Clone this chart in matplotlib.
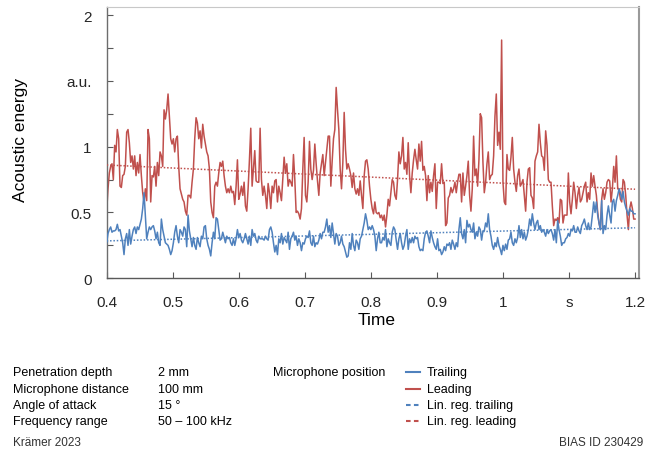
import numpy as np
import matplotlib
matplotlib.use('Agg')
import matplotlib.pyplot as plt
from matplotlib.lines import Line2D

plt.rcParams['font.family'] = ['Liberation Sans', 'DejaVu Sans']

# acoustic energy (a.u.), sampled evenly from 0.4 s to 1.2 s
leading = [
    0.51, 0.68, 0.80, 0.85, 0.87, 0.75, 1.01, 0.96, 1.13, 1.06,
    0.70, 0.69, 0.78, 0.79, 0.85, 1.11, 1.13, 1.03, 0.88, 0.93,
    0.83, 0.93, 0.78, 0.88, 0.80, 0.94, 0.78, 0.65, 0.58, 0.68,
    0.59, 1.13, 1.06, 0.58, 0.78, 0.77, 0.85, 0.70, 0.88, 0.78,
    0.96, 0.93, 0.85, 1.28, 1.21, 1.28, 1.40, 1.23, 1.06, 1.02,
    1.06, 0.96, 1.06, 1.08, 0.85, 0.68, 0.64, 0.60, 0.58, 0.51,
    0.48, 0.63,
    0.63, 0.61, 0.73, 0.83, 1.06, 1.22, 1.18, 1.06, 1.12, 0.99,
    1.17, 1.08, 1.02, 0.96, 0.93, 0.83, 0.58, 0.50, 0.46, 0.70,
    0.73, 0.70, 0.80, 0.88, 0.85, 0.89, 0.78, 0.70, 0.65, 0.68,
    0.65, 0.70, 0.65, 0.66, 0.56, 0.70, 0.90, 0.60, 0.64, 0.70,
    0.63, 0.73, 0.55, 0.51, 0.68, 0.90, 1.14, 0.70, 0.83, 0.97,
    0.74, 0.73, 0.73, 1.14, 0.75, 0.63, 0.70, 0.63, 0.53, 0.72,
    0.65, 0.53, 0.70, 0.65, 0.74, 0.75, 0.58,
    0.70, 0.65, 0.59, 0.75, 0.92, 0.80, 0.87, 0.70, 0.75, 0.73,
    0.70, 0.94, 0.75, 0.50, 0.51, 0.49, 0.45, 0.53, 0.83, 1.07,
    0.63, 0.58, 0.73, 1.04, 0.83, 0.75, 0.82, 1.02, 0.87, 0.74,
    0.63, 0.80, 0.87, 0.94, 0.78, 0.88, 0.98, 1.08, 1.08, 0.70,
    0.89, 1.06, 1.13, 1.45, 1.28, 1.13, 0.83, 0.68, 0.88, 1.26,
    0.98, 0.83, 0.87, 0.83, 0.78, 0.69, 0.80, 0.68, 0.64, 0.68,
    0.63, 0.74, 0.63, 0.53, 0.78, 0.89, 0.90, 0.83,
    0.70, 0.60, 0.53, 0.49, 0.58, 0.50, 0.49, 0.50, 0.46, 0.48,
    0.44, 0.48, 0.39, 0.48, 0.60, 0.55, 0.65, 0.75, 0.73, 0.63,
    0.60, 0.75, 0.96, 0.87, 0.93, 1.07, 0.83, 0.88, 0.79, 1.03,
    0.78, 0.65, 0.80, 0.90, 0.98, 0.90, 0.83, 1.02, 0.89, 1.04,
    0.82, 0.85, 0.78, 0.59, 0.78, 0.65, 0.73, 0.66, 0.78, 0.87,
    0.53, 0.73, 0.73, 0.72, 0.87, 0.72, 0.73, 0.40, 0.42, 0.61,
    0.63, 0.69, 0.65, 0.68, 0.73, 0.65, 0.73, 0.79,
    0.79, 0.58, 0.80, 0.63, 0.70, 0.78, 0.89, 0.63, 0.51, 0.68,
    1.08, 0.78, 0.83, 0.70, 0.90, 1.25, 1.22, 0.88, 0.65, 0.73,
    0.87, 0.96, 0.75, 0.78, 0.79, 0.93, 1.23, 1.40, 1.01, 1.11,
    0.98, 1.81, 0.73, 0.58, 0.56, 0.94, 0.83, 0.82, 0.92, 1.07,
    0.83, 0.73, 0.66, 0.78, 0.83, 0.70, 0.72, 0.75, 0.63, 0.51,
    0.73, 0.83, 0.84, 0.63, 0.61, 0.53, 0.89, 0.93, 0.96, 1.17,
    1.03, 0.93, 0.92, 0.82, 1.12, 1.01, 0.75, 0.73,
    0.73, 0.55, 0.40, 0.45, 0.44, 0.46, 0.42, 0.60, 0.59, 0.42,
    0.48, 0.48, 0.48, 0.80, 0.58, 0.49, 0.60, 0.73, 0.65, 0.53,
    0.63, 0.69, 0.58, 0.60, 0.65, 0.70, 0.73, 0.58, 0.65, 0.60,
    0.80, 0.70, 0.78, 0.70, 0.63, 0.50, 0.42, 0.37, 0.60, 0.68,
    0.60, 0.65, 0.73, 0.75, 0.74, 0.58, 0.68, 0.85, 0.73, 0.93,
    0.68, 0.68, 0.60, 0.58, 0.75, 0.73, 0.63, 0.48, 0.37, 0.53,
    0.58, 0.53, 0.45, 0.45,
]

trailing = [
    0.27, 0.34, 0.37, 0.39, 0.35, 0.36, 0.36, 0.37, 0.41, 0.36,
    0.37, 0.32, 0.27, 0.18, 0.30, 0.34, 0.25, 0.37, 0.26, 0.32,
    0.37, 0.39, 0.34, 0.39, 0.37, 0.41, 0.45, 0.53, 0.65, 0.48,
    0.30, 0.35, 0.39, 0.37, 0.39, 0.40, 0.36, 0.30, 0.35, 0.27,
    0.25, 0.45, 0.37, 0.32, 0.27, 0.26, 0.25, 0.22, 0.18, 0.21,
    0.27, 0.35, 0.40, 0.32, 0.27, 0.37, 0.35, 0.32, 0.39, 0.37,
    0.24, 0.48,
    0.36, 0.30, 0.24, 0.31, 0.25, 0.22, 0.31, 0.27, 0.24, 0.32,
    0.30, 0.39, 0.40, 0.30, 0.25, 0.22, 0.17, 0.27, 0.35, 0.30,
    0.46, 0.45, 0.37, 0.29, 0.30, 0.35, 0.31, 0.27, 0.32, 0.30,
    0.31, 0.27, 0.25, 0.30, 0.25, 0.30, 0.37, 0.31, 0.34, 0.29,
    0.27, 0.30, 0.34, 0.30, 0.26, 0.32, 0.25, 0.37, 0.32, 0.34,
    0.29, 0.27, 0.32, 0.30, 0.30, 0.30, 0.29, 0.32, 0.30, 0.29,
    0.37, 0.39, 0.35, 0.27, 0.20, 0.25, 0.18,
    0.30, 0.27, 0.34, 0.26, 0.31, 0.29, 0.27, 0.35, 0.22, 0.30,
    0.32, 0.35, 0.29, 0.32, 0.25, 0.30, 0.27, 0.21, 0.27, 0.26,
    0.30, 0.32, 0.31, 0.36, 0.27, 0.25, 0.32, 0.24, 0.27, 0.26,
    0.29, 0.34, 0.30, 0.35, 0.35, 0.39, 0.45, 0.35, 0.40, 0.31,
    0.42, 0.34, 0.26, 0.34, 0.32, 0.25, 0.27, 0.32, 0.26, 0.24,
    0.20, 0.16, 0.17, 0.27, 0.22, 0.34, 0.25, 0.21, 0.29, 0.27,
    0.22, 0.30, 0.32, 0.37, 0.42, 0.49, 0.44, 0.37,
    0.39, 0.37, 0.40, 0.37, 0.32, 0.21, 0.30, 0.35, 0.27, 0.27,
    0.31, 0.29, 0.37, 0.24, 0.30, 0.27, 0.25, 0.35, 0.39, 0.37,
    0.29, 0.22, 0.30, 0.34, 0.27, 0.22, 0.25, 0.32, 0.37, 0.22,
    0.30, 0.27, 0.31, 0.27, 0.32, 0.30, 0.31, 0.24, 0.21, 0.22,
    0.21, 0.30, 0.35, 0.36, 0.32, 0.27, 0.36, 0.31, 0.27, 0.24,
    0.22, 0.30, 0.21, 0.22, 0.18, 0.20, 0.24, 0.21, 0.26, 0.25,
    0.27, 0.22, 0.29, 0.26, 0.22, 0.27, 0.24, 0.37,
    0.46, 0.34, 0.30, 0.37, 0.27, 0.44, 0.39, 0.41, 0.37, 0.35,
    0.42, 0.30, 0.35, 0.32, 0.39, 0.37, 0.29, 0.36, 0.36, 0.42,
    0.39, 0.49, 0.37, 0.32, 0.25, 0.22, 0.27, 0.24, 0.31, 0.25,
    0.22, 0.18, 0.25, 0.21, 0.26, 0.22, 0.29, 0.30, 0.35, 0.27,
    0.25, 0.30, 0.27, 0.31, 0.40, 0.31, 0.37, 0.30, 0.35, 0.29,
    0.32, 0.37, 0.45, 0.40, 0.49, 0.42, 0.37, 0.42, 0.44, 0.37,
    0.40, 0.35, 0.37, 0.35, 0.32, 0.37, 0.34, 0.36,
    0.37, 0.34, 0.29, 0.37, 0.27, 0.44, 0.37, 0.32, 0.25, 0.27,
    0.27, 0.30, 0.31, 0.34, 0.32, 0.37, 0.36, 0.40, 0.35, 0.35,
    0.39, 0.36, 0.34, 0.40, 0.42, 0.45, 0.40, 0.37, 0.42, 0.37,
    0.39, 0.48, 0.58, 0.50, 0.58, 0.48, 0.42, 0.37, 0.59, 0.34,
    0.40, 0.37, 0.48, 0.55, 0.48, 0.42, 0.58, 0.60, 0.51, 0.59,
    0.63, 0.68, 0.65, 0.60, 0.66, 0.58, 0.54, 0.51, 0.48, 0.53,
    0.51, 0.51, 0.49, 0.49,
]

t_start, t_end = 0.4, 1.2

x_ticks = [0.4, 0.5, 0.6, 0.7, 0.8, 0.9, 1.0, 1.1, 1.2]
x_ticklabels = ['0.4', '0.5', '0.6', '0.7', '0.8', '0.9', '1', 's', '1.2']
y_ticks = [0, 0.5, 1, 1.5, 2]
y_ticklabels = ['0', '0.5', '1', 'a.u.', '2']

params = [
    ('Penetration depth', '2 mm'),
    ('Microphone distance', '100 mm'),
    ('Angle of attack', '15 °'),
    ('Frequency range', '50 – 100 kHz'),
]

c_blue = '#4F81BD'
c_red = '#C0504D'

t = np.linspace(t_start, t_end, len(leading))
leading = np.array(leading)
trailing = np.array(trailing)

fig = plt.figure(figsize=(6.54, 4.52), dpi=100, facecolor='white')
ax = fig.add_axes([0.1631, 0.3821, 0.8140, 0.6002])

ax.plot(t, trailing, color=c_blue, lw=1.1, zorder=3)
ax.plot(t, leading, color=c_red, lw=1.1, zorder=2)

# linear regressions
tt = np.array([t_start, t_end])
for y, c in [(trailing, c_blue), (leading, c_red)]:
    k, d = np.polyfit(t, y, 1)
    ax.plot(tt, k * tt + d, color=c, lw=1.1, ls=(0, (1, 1.2)), zorder=4)

ax.set_xlim(0.4, 1.206)
ax.set_ylim(0, 2.061)

ax.set_xticks(x_ticks)
ax.set_xticklabels(x_ticklabels)
ax.set_yticks(y_ticks)
ax.set_yticklabels(y_ticklabels)
ax.set_yticks([0.25, 0.75, 1.25, 1.75], minor=True)
ax.tick_params(axis='both', which='both', direction='in', length=4, width=0.8,
               color='#595959', labelsize=11, labelcolor='#262626')
ax.tick_params(axis='x', pad=12)
ax.tick_params(axis='y', pad=11)

ax.spines['left'].set_color('#6d6d6d')
ax.spines['bottom'].set_color('#595959')
ax.spines['right'].set_color('#9a9a9a')
ax.spines['top'].set_color('#c8c8c8')
ax.spines['left'].set_linewidth(1.0)
ax.spines['bottom'].set_linewidth(1.0)
ax.spines['right'].set_linewidth(1.5)
ax.spines['top'].set_linewidth(0.8)

fig.text(20.5 / 654, 0.69, 'Acoustic energy', rotation=90, ha='center', va='center', fontsize=12.5)
fig.text(377 / 654, 0.292, 'Time', ha='center', va='center', fontsize=12.5)

# parameter block
rows_y = [0.175, 0.137, 0.102, 0.066]
for (name, val), yy in zip(params, rows_y):
    fig.text(0.020, yy, name, fontsize=9, va='center')
    fig.text(0.2416, yy, val, fontsize=9, va='center')

fig.text(0.417, rows_y[0], 'Microphone position', fontsize=9, va='center')
leg = [
    ('Trailing', c_blue, '-'),
    ('Leading', c_red, '-'),
    ('Lin. reg. trailing', c_blue, (0, (2.2, 1.6))),
    ('Lin. reg. leading', c_red, (0, (2.2, 1.6))),
]
for (lab, c, ls), yy in zip(leg, rows_y):
    fig.add_artist(Line2D([0.621, 0.642], [yy, yy], color=c, lw=1.5, ls=ls, transform=fig.transFigure))
    fig.text(0.653, yy, lab, fontsize=9, va='center')

fig.text(0.020, 0.020, 'Krämer 2023', fontsize=8.5, va='center', color='#333333')
fig.text(0.983, 0.020, 'BIAS ID 230429', fontsize=8.5, va='center', ha='right', color='#333333')

fig.savefig('out.png', dpi=100, facecolor='white')
